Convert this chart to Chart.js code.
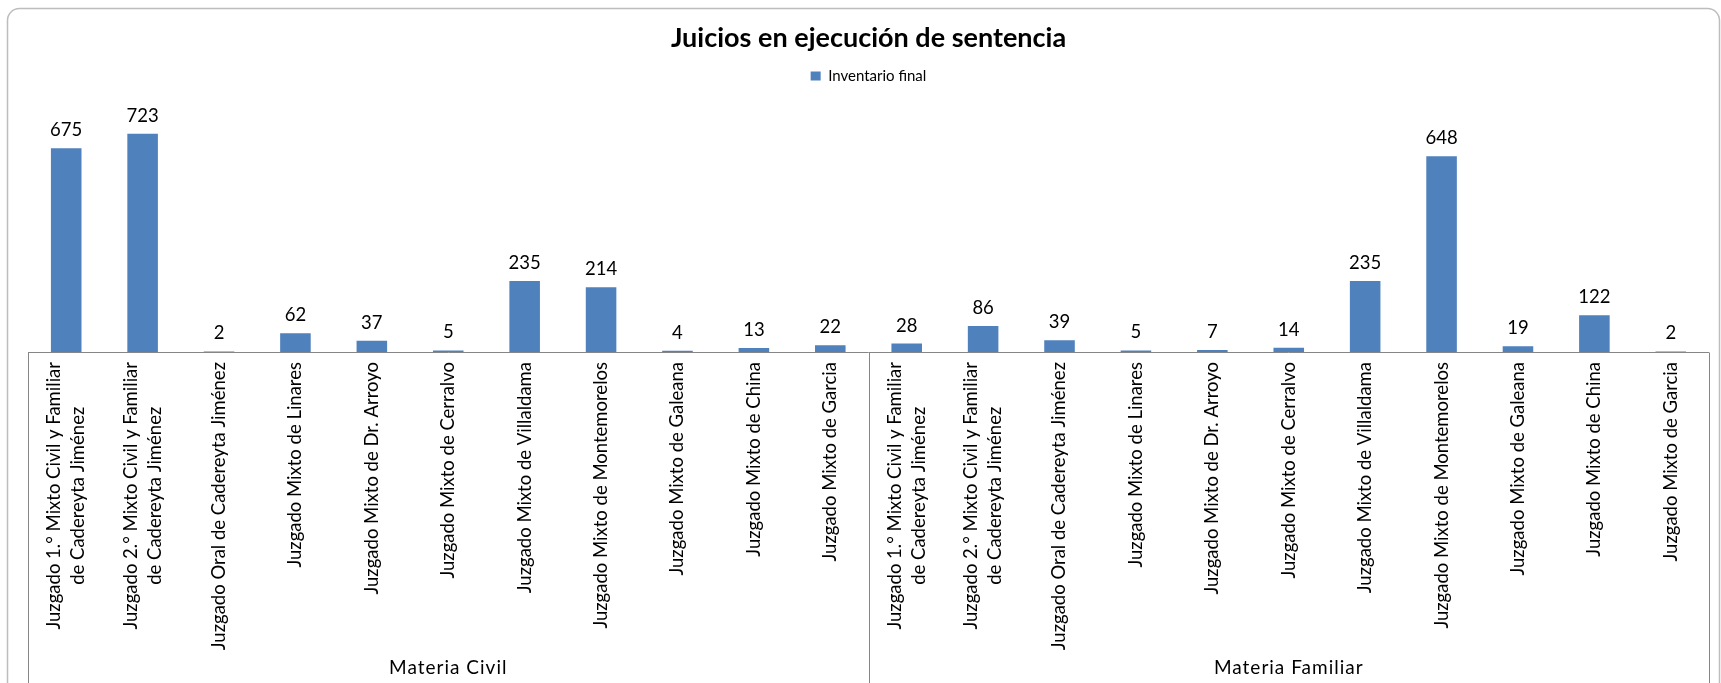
<!DOCTYPE html>
<html>
<head>
<meta charset="utf-8">
<script src="https://cdn.jsdelivr.net/npm/chart.js@4"></script>
<style>
  html, body { margin: 0; padding: 0; background: #fff; }
  #wrap { width: 1721px; height: 683px; }
</style>
</head>
<body>
<div id="wrap"><canvas id="bar"></canvas></div>
<script>
  // Courts (same list for each subject)
  const courts = [
    ['Juzgado 1.° Mixto Civil y Familiar', 'de Cadereyta Jiménez'],
    ['Juzgado 2.° Mixto Civil y Familiar', 'de Cadereyta Jiménez'],
    'Juzgado Oral de Cadereyta Jiménez',
    'Juzgado Mixto de Linares',
    'Juzgado Mixto de Dr. Arroyo',
    'Juzgado Mixto de Cerralvo',
    'Juzgado Mixto de Villaldama',
    'Juzgado Mixto de Montemorelos',
    'Juzgado Mixto de Galeana',
    'Juzgado Mixto de China',
    'Juzgado Mixto de Garcia',
  ];
  const groups = ['Materia Civil', 'Materia Familiar'];

  // Inventario final per court
  const civilValues = [675, 723, 2, 62, 37, 5, 235, 214, 4, 13, 22];
  const familiarValues = [28, 86, 39, 5, 7, 14, 235, 648, 19, 122, 2];

  const seriesLabel = 'Inventario final';
  const titleText = 'Juicios en ejecución de sentencia';

  const labels = courts.concat(courts);
  const dataPoints = civilValues.concat(familiarValues);

  const FONT = 'Lato, "Noto Sans", sans-serif';

  // white card with rounded grey border
  const frame = {
    id: 'frame',
    beforeDraw(chart) {
      const ctx = chart.ctx;
      ctx.save();
      ctx.fillStyle = '#fff';
      ctx.fillRect(0, 0, chart.width, chart.height);
      const x = 7.5, y = 8.5, w = 1712, h = 690, r = 12;
      ctx.beginPath();
      ctx.moveTo(x + r, y);
      ctx.arcTo(x + w, y, x + w, y + h, r);
      ctx.arcTo(x + w, y + h, x, y + h, r);
      ctx.arcTo(x, y + h, x, y, r);
      ctx.arcTo(x, y, x + w, y, r);
      ctx.closePath();
      ctx.strokeStyle = '#bdbdbd';
      ctx.lineWidth = 1.5;
      ctx.stroke();
      ctx.restore();
    }
  };

  // extra room under the legend
  const legendMargin = {
    id: 'legendMargin',
    beforeInit(chart) {
      const origFit = chart.legend.fit;
      chart.legend.fit = function fit() {
        origFit.bind(chart.legend)();
        this.height += 17;
      };
    }
  };

  // values above bars
  const valueLabels = {
    id: 'valueLabels',
    afterDatasetsDraw(chart) {
      const ctx = chart.ctx;
      const meta = chart.getDatasetMeta(0);
      ctx.save();
      ctx.font = '18.5px ' + FONT;
      ctx.fillStyle = '#000';
      ctx.textAlign = 'center';
      ctx.textBaseline = 'alphabetic';
      meta.data.forEach((bar, i) => {
        ctx.fillText(String(dataPoints[i]), bar.x, bar.y - 12);
      });
      ctx.restore();
    }
  };

  // rotated category labels + group level (multi-level axis)
  const categoryAxis = {
    id: 'categoryAxis',
    afterDraw(chart) {
      const ctx = chart.ctx;
      const xs = chart.scales.x;
      const area = chart.chartArea;
      const per = courts.length;
      ctx.save();
      ctx.strokeStyle = '#868686';
      ctx.lineWidth = 1;
      ctx.beginPath();
      const yAxis = Math.round(area.bottom) + 0.5;
      ctx.moveTo(area.left, yAxis);
      ctx.lineTo(area.right, yAxis);
      for (let g = 0; g <= groups.length; g++) {
        let px;
        if (g === 0) px = area.left;
        else if (g === groups.length) px = area.right;
        else px = (xs.getPixelForValue(g * per - 1) + xs.getPixelForValue(g * per)) / 2;
        px = Math.round(px) + 0.5;
        ctx.moveTo(px, yAxis);
        ctx.lineTo(px, chart.height);
      }
      ctx.stroke();

      ctx.font = '18.5px ' + FONT;
      ctx.fillStyle = '#000';
      labels.forEach((lab, i) => {
        const lines = Array.isArray(lab) ? lab : [lab];
        const cx = xs.getPixelForValue(i);
        const maxW = Math.max(...lines.map(l => ctx.measureText(l).width));
        ctx.save();
        ctx.translate(cx, area.bottom + 10);
        ctx.rotate(-Math.PI / 2);
        ctx.textAlign = 'center';
        ctx.textBaseline = 'middle';
        lines.forEach((l, j) => {
          ctx.fillText(l, -maxW / 2, (j - (lines.length - 1) / 2) * 24);
        });
        ctx.restore();
      });

      ctx.font = '19px ' + FONT;
      ctx.letterSpacing = '1px';
      ctx.textAlign = 'center';
      ctx.textBaseline = 'middle';
      groups.forEach((g, k) => {
        const first = xs.getPixelForValue(k * per);
        const last = xs.getPixelForValue(k * per + per - 1);
        ctx.fillText(g, (first + last) / 2, chart.height - 15);
      });
      ctx.restore();
    }
  };

  const barConfig = {
    type: 'bar',
    data: {
      labels: labels,
      datasets: [
        {
          label: seriesLabel,
          data: dataPoints,
          backgroundColor: '#4f81bd',
          borderWidth: 0,
          categoryPercentage: 1,
          barPercentage: 0.4,
        },
      ],
    },
    options: {
      responsive: true,
      maintainAspectRatio: false,
      animation: false,
      layout: {
        padding: { left: 28, right: 12, top: 8, bottom: 331 },
      },
      plugins: {
        title: {
          display: true,
          text: titleText,
          color: '#000',
          font: { family: FONT, size: 27, weight: 'bold' },
          padding: { top: 14, bottom: 4 },
        },
        legend: {
          display: true,
          position: 'top',
          labels: {
            boxWidth: 10,
            boxHeight: 9,
            padding: 10,
            color: '#000',
            font: { family: FONT, size: 15 },
          },
        },
        tooltip: { enabled: false },
      },
      scales: {
        x: { display: false },
        y: { display: false, beginAtZero: true, min: 0, max: 800 },
      },
    },
    plugins: [frame, legendMargin, valueLabels, categoryAxis],
  };

  const barCtx = document.getElementById('bar');
  window.myBar = new Chart(barCtx, barConfig);
</script>
</body>
</html>
